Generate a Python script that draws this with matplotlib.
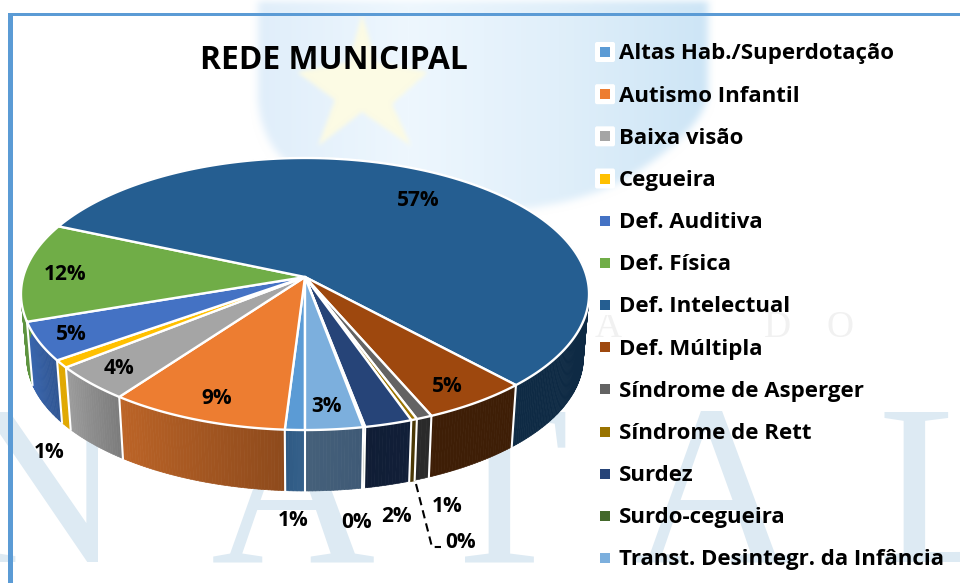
import numpy as np
import matplotlib
matplotlib.use('Agg')
import matplotlib.pyplot as plt
from matplotlib.collections import PolyCollection
from matplotlib.patches import Polygon, FancyBboxPatch
from matplotlib.path import Path

categories = ['Altas Hab./Superdotação', 'Autismo Infantil', 'Baixa visão', 'Cegueira',
              'Def. Auditiva', 'Def. Física', 'Def. Intelectual', 'Def. Múltipla',
              'Síndrome de Asperger', 'Síndrome de Rett', 'Surdez', 'Surdo-cegueira',
              'Transt. Desintegr. da Infância']
values = [1.0, 9.1, 4.2, 0.9, 4.6, 11.7, 56.6, 5.4, 0.8, 0.3, 2.4, 0.1, 2.9]

top_colors = ['#5B9BD5', '#ED7D31', '#A5A5A5', '#FFC000', '#4472C4', '#70AD47', '#255E91',
              '#9E480E', '#636363', '#997300', '#264478', '#43682B', '#7CAFDD']
# side shading, left end and right end as seen from the front
side_left = ['#2F5B85', '#BC6427', '#9C9C9C', '#E0A800', '#3A67B0', '#5E9440', '#0E2A44',
             '#3E1E06', '#2A2A2A', '#4A3806', '#101D35', '#2A4019', '#45607A']
side_right = ['#35608A', '#8E4A1C', '#7C7C7C', '#E0A800', '#2F5592', '#5E9440', '#0E2A44',
              '#3E1E06', '#2A2A2A', '#4A3806', '#111F38', '#2A4019', '#3F5A76']

font = 'Open Sans'
W, H = 960, 583

# pie geometry in pixels
cx, cy = 305, 277
a0, b0, k = 281.8, 133.9, 0.125
bot_cy, bot_s = 341, 0.98


def rim(phi, y0=cy, s=1.0):
    u, v = np.sin(phi), -np.cos(phi)
    w = 1 - k * v
    return cx + s * a0 * u / w, y0 + s * b0 * v / w


def soft_mask(path, size=7):
    gx, gy = np.meshgrid(np.arange(W) + .5, np.arange(H) + .5)
    m = path.contains_points(np.column_stack([gx.ravel(), gy.ravel()])).reshape(H, W).astype(float)
    kernel = np.ones(size) / size
    for _ in range(2):
        m = np.apply_along_axis(lambda r: np.convolve(r, kernel, mode='same'), 0, m)
        m = np.apply_along_axis(lambda r: np.convolve(r, kernel, mode='same'), 1, m)
    return m


fig = plt.figure(figsize=(9.6, 5.83), dpi=100)
ax = fig.add_axes([0, 0, 1, 1])

# watermark behind the chart
shield = Path([(258, -30), (258, 100), (262, 150), (300, 172), (400, 225), (560, 225), (640, 170),
               (708, 125), (708, 90), (708, -30), (258, -30)],
              [Path.MOVETO, Path.LINETO, Path.CURVE3, Path.CURVE3, Path.CURVE4, Path.CURVE4, Path.CURVE4,
               Path.CURVE3, Path.CURVE3, Path.LINETO, Path.CLOSEPOLY])
star = Path([(362, 14), (376, 62), (428, 72), (392, 104), (411, 146), (362, 112), (318, 146), (335, 100),
             (297, 72), (349, 62), (362, 14)], closed=True)

grad = np.array([[224, 238, 250], [238, 247, 254], [224, 239, 250], [205, 229, 246]]) / 255
t = np.clip((np.arange(W) - 258) / 450, 0, 1) * 3
base = np.stack([np.interp(t, range(4), grad[:, i]) for i in range(3)], axis=1)[None, :, :]
base = np.repeat(base, H, axis=0)
m = soft_mask(shield, 9)[:, :, None]
bg = 1 + (base - 1) * m
s = soft_mask(star, 5)[:, :, None]
bg = bg + (np.array([252, 251, 228]) / 255 - bg) * s
ax.imshow(bg, extent=(0, W, H, 0), aspect='auto', zorder=0, interpolation='bilinear')

for letter, lx in zip('NATAL', [40, 293, 500, 713, 947]):
    ax.text(lx, 562, letter, family='Liberation Serif', fontsize=164, color='#DDEAF3',
            ha='center', va='baseline', zorder=0.6)
for letter, lx in zip('ADO', [608, 777, 840]):
    ax.text(lx, 337, letter, family='Liberation Serif', fontsize=27, color='#F1F1F1',
            ha='center', va='baseline', zorder=0.6)

# frame
ax.add_patch(Polygon([(8, H), (8, 13), (W, 13), (W, 16), (13, 16), (13, H)], closed=True,
                     fc='#5B9BD5', ec='none', zorder=1))

total = sum(values)
edges = np.radians(180 + 360 * np.concatenate([[0], np.cumsum(values)]) / total)

# sides
for i in range(len(values)):
    phis = np.linspace(edges[i], edges[i + 1], max(2, int(values[i] * 6)))
    # clockwise runs right to left at the front
    c0 = np.array(matplotlib.colors.to_rgb(side_right[i]))
    c1 = np.array(matplotlib.colors.to_rgb(side_left[i]))
    polys, cols = [], []
    for j in range(len(phis) - 1):
        x1, y1 = rim(phis[j])
        x2, y2 = rim(phis[j + 1])
        x3, y3 = rim(phis[j + 1], bot_cy, bot_s)
        x4, y4 = rim(phis[j], bot_cy, bot_s)
        polys.append([(x1, y1), (x2, y2), (x3, y3), (x4, y4)])
        cols.append(c0 + (c1 - c0) * j / max(1, len(phis) - 2))
    ax.add_collection(PolyCollection(polys, facecolors=cols, edgecolors=cols, linewidths=0.5, zorder=2))

for i in range(len(values)):
    if np.cos(edges[i]) < 0.2:
        x1, y1 = rim(edges[i])
        x2, y2 = rim(edges[i], bot_cy, bot_s)
        ax.plot([x1, x2], [y1, y2], color='white', lw=1.5, zorder=2.5)

# top faces
for i in range(len(values)):
    phis = np.linspace(edges[i], edges[i + 1], max(2, int(values[i] * 8)))
    x, y = rim(phis)
    ax.add_patch(Polygon(np.vstack([[cx, cy], np.column_stack([x, y])]), closed=True,
                         fc=top_colors[i], ec='white', lw=1.7, joinstyle='round', zorder=3))

# value labels
label_pos = [(293, 518), (217, 397), (119, 367), (49, 451), (71, 333), (65, 273), (418, 198),
             (447, 384), (447, 505), (461, 541), (396, 515), (357, 521), (327, 405)]
for v, (lx, ly) in zip(values, label_pos):
    ax.text(lx, ly + 2, f'{v / total * 100:.0f}%', family=font, fontweight='bold', fontsize=15,
            color='black', ha='center', va='center', zorder=5)

# leader line of the Rett slice
ax.plot([416, 432, 441], [484, 547, 547], color='black', lw=1.5, ls=(0, (4, 2.5)), zorder=4)

ax.text(333.5, 69, 'REDE MUNICIPAL', family=font, fontweight='bold', fontsize=22.85,
        color='black', ha='center', va='baseline', zorder=5)

# legend
legend_y = np.linspace(52, 558, len(categories))
for name, col, ly in zip(categories, top_colors, legend_y):
    ax.add_patch(FancyBboxPatch((595, ly - 10), 20, 20, boxstyle='round,pad=0,rounding_size=2',
                                fc='white', ec='none', zorder=4))
    ax.add_patch(Polygon([(600, ly - 5), (610, ly - 5), (610, ly + 5), (600, ly + 5)], closed=True,
                         fc=col, ec='none', zorder=5))
    ax.text(619, ly + 2, name, family=font, fontweight='bold', fontsize=16, color='black',
            ha='left', va='center', zorder=5)

ax.set_xlim(0, W)
ax.set_ylim(H, 0)
ax.axis('off')
fig.savefig('out.png', dpi=100, facecolor='white')
